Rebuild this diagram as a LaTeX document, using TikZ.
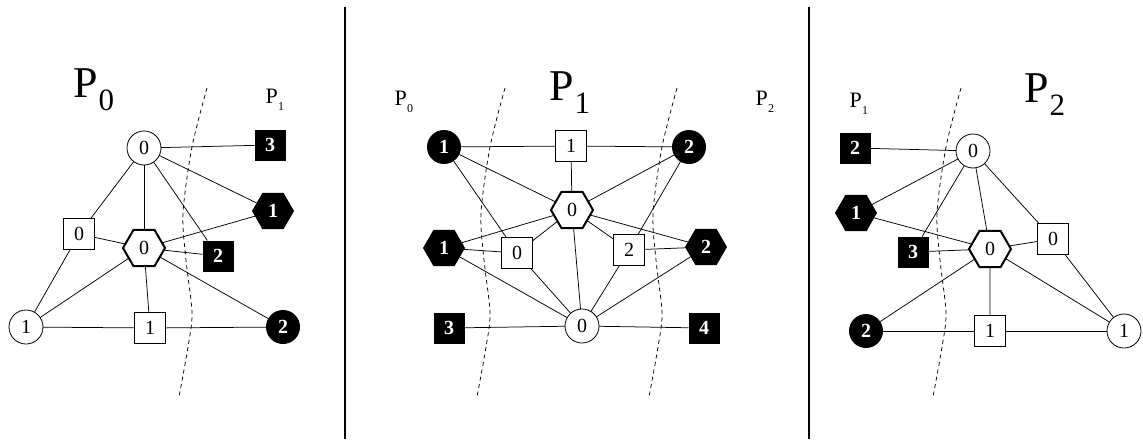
\documentclass[tikz,border=0pt]{standalone}
\usepackage{fontspec}
\setmainfont{Liberation Serif}
\usetikzlibrary{shapes.geometric}
\newcommand\cutcurve[1]{\draw[cutline, shift={(#1,0)}] plot[smooth] coordinates {(207,88) (192,147) (183,213) (186,260) (192,313) (188,347) (179,397)};}
\newcommand\bigP[3]{\node[anchor=base west, font=\fontsize{44}{46}\selectfont] at (#1,#2) {P};
  \node[anchor=base west, font=\fontsize{31}{33}\selectfont] at (#1+25,#2+13) {#3};}
\newcommand\smallP[3]{\node[anchor=base west, font=\fontsize{22}{24}\selectfont] at (#1,#2) {P};
  \node[anchor=base west, font=\fontsize{12}{13}\selectfont] at (#1+12.5,#2+7) {#3};}
\begin{document}
\begin{tikzpicture}[x=1pt,y=-1pt,
  base/.style={inner sep=0pt, outer sep=0pt, font=\fontsize{20}{22}\selectfont},
  wsq/.style={base, rectangle, draw, fill=white, minimum size=31pt, line width=0.8pt},
  bsq/.style={base, rectangle, fill=black, text=white, minimum size=31pt, font=\fontsize{20}{22}\selectfont\bfseries},
  wci/.style={base, circle, draw, fill=white, minimum size=34pt, line width=0.8pt},
  bci/.style={base, circle, fill=black, text=white, minimum size=34pt, font=\fontsize{20}{22}\selectfont\bfseries},
  whex/.style={base, regular polygon, regular polygon sides=6, draw, fill=white, minimum size=42pt, line width=2pt},
  bhex/.style={base, regular polygon, regular polygon sides=6, fill=black, text=white, minimum size=42pt, font=\fontsize{20}{22}\selectfont\bfseries},
  edge/.style={line width=0.75pt},
  cutline/.style={line width=0.75pt, dash pattern=on 4pt off 3.5pt},
  sep/.style={line width=1.2pt}]
\useasboundingbox (0,0) rectangle (1143,439);

% separators
\coordinate (sepAtop) at (345,7); \coordinate (sepAbot) at (345,439);
\coordinate (sepBtop) at (809,7); \coordinate (sepBbot) at (809,439);
\draw[sep] (sepAtop) -- (sepAbot);
\draw[sep] (sepBtop) -- (sepBbot);

% ---------- Panel 1 ----------
\bigP{70}{97}{0}
\smallP{262}{103}{1}
\node[wci]  (a0) at (144,148) {0};
\node[bsq]  (a3) at (270,145) {3};
\node[bhex] (ah1) at (273,211) {1};
\node[wsq]  (as0) at (79,234) {0};
\node[whex] (ahx) at (144,248) {0};
\node[bsq]  (as2) at (218,256) {2};
\node[wci]  (ac1) at (26,327) {1};
\node[wsq]  (as1) at (150,328) {1};
\node[bci]  (ac2) at (283,327) {2};
\draw[edge] (a0) -- (a3);
\draw[edge] (a0) -- (ah1);
\draw[edge] (a0) -- (as2);
\draw[edge] (a0) -- (ahx);
\draw[edge] (a0) -- (as0);
\draw[edge] (as0) -- (ahx);
\draw[edge] (as0) -- (ac1);
\draw[edge] (ahx) -- (ah1);
\draw[edge] (ahx) -- (as2);
\draw[edge] (ahx) -- (ac2);
\draw[edge] (ahx) -- (ac1);
\draw[edge] (ahx) -- (as1);
\draw[edge] (ac1) -- (as1);
\draw[edge] (as1) -- (ac2);
\cutcurve{0}

% ---------- Panel 2 ----------
\bigP{546}{100}{1}
\smallP{391}{105}{0}
\smallP{752}{105}{2}
\node[bci]  (b1) at (444,147) {1};
\node[wsq]  (bt1) at (571,146) {1};
\node[bci]  (b2) at (689,147) {2};
\node[whex] (bhx) at (572,210) {0};
\node[bhex] (bh1) at (444,248) {1};
\node[wsq]  (bw0) at (517,253) {0};
\node[wsq]  (bw2) at (629,250) {2};
\node[bhex] (bh2) at (706,247) {2};
\node[bsq]  (bs3) at (449,328) {3};
\node[wci]  (bc0) at (582,326) {0};
\node[bsq]  (bs4) at (704,328) {4};
\draw[edge] (b1) -- (bt1);
\draw[edge] (bt1) -- (b2);
\draw[edge] (bt1) -- (bhx);
\draw[edge] (b1) -- (bhx);
\draw[edge] (b1) -- (bw0);
\draw[edge] (b2) -- (bhx);
\draw[edge] (b2) -- (bw2);
\draw[edge] (bh1) -- (bhx);
\draw[edge] (bh1) -- (bw0);
\draw[edge] (bh1) -- (bc0);
\draw[edge] (bw0) -- (bhx);
\draw[edge] (bw0) -- (bc0);
\draw[edge] (bhx) -- (bw2);
\draw[edge] (bhx) -- (bh2);
\draw[edge] (bhx) -- (bc0);
\draw[edge] (bw2) -- (bh2);
\draw[edge] (bw2) -- (bc0);
\draw[edge] (bh2) -- (bc0);
\draw[edge] (bs3) -- (bc0);
\draw[edge] (bc0) -- (bs4);
\cutcurve{298}
\cutcurve{470}

% ---------- Panel 3 ----------
\bigP{1021}{102}{2}
\smallP{846}{107}{1}
\node[bsq]  (cs2) at (855,148) {2};
\node[wci]  (cc0) at (973,151) {0};
\node[bhex] (ch1) at (856,213) {1};
\node[bsq]  (cs3) at (913,252) {3};
\node[whex] (chx) at (990,249) {0};
\node[wsq]  (cs0) at (1053,239) {0};
\node[bci]  (cc2) at (866,331) {2};
\node[wsq]  (cs1) at (990,331) {1};
\node[wci]  (cc1) at (1124,331) {1};
\draw[edge] (cs2) -- (cc0);
\draw[edge] (cc0) -- (ch1);
\draw[edge] (cc0) -- (cs3);
\draw[edge] (cc0) -- (chx);
\draw[edge] (cc0) -- (cs0);
\draw[edge] (ch1) -- (chx);
\draw[edge] (cs3) -- (chx);
\draw[edge] (chx) -- (cs0);
\draw[edge] (chx) -- (cc2);
\draw[edge] (chx) -- (cs1);
\draw[edge] (chx) -- (cc1);
\draw[edge] (cs0) -- (cc1);
\draw[edge] (cc2) -- (cs1);
\draw[edge] (cs1) -- (cc1);
\cutcurve{754}
\end{tikzpicture}
\end{document}
